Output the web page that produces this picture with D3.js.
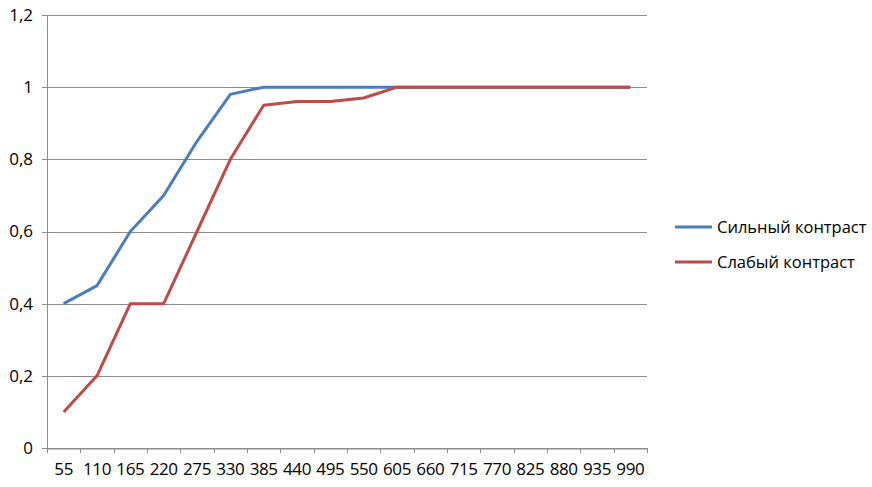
<!DOCTYPE html>
<html>
<head>
<meta charset="utf-8">
<script src="https://cdn.jsdelivr.net/npm/d3@7"></script>
<style>
  body { margin: 0; background: #fff; }
  text { font-family: "Open Sans", "Liberation Sans", sans-serif; fill: #000; }
</style>
</head>
<body>
<div id="chart"></div>
<script>
const width = 872;
const height = 487;

// данные
const categories = [55, 110, 165, 220, 275, 330, 385, 440, 495, 550, 605, 660, 715, 770, 825, 880, 935, 990];
const strong = [0.4, 0.45, 0.6, 0.7, 0.85, 0.98, 1, 1, 1, 1, 1, 1, 1, 1, 1, 1, 1, 1];
const weak = [0.1, 0.2, 0.4, 0.4, 0.6, 0.8, 0.95, 0.96, 0.96, 0.97, 1, 1, 1, 1, 1, 1, 1, 1];
const yTicks = [0, 0.2, 0.4, 0.6, 0.8, 1, 1.2];
const seriesNames = ["Сильный контраст", "Слабый контраст"];
const colors = ["#4A7EBB", "#BE4B48"];

const margin = { left: 47, right: 225, top: 15, bottom: 39 };

const svg = d3.select("#chart")
  .append("svg")
  .attr("width", width)
  .attr("height", height);

const x = d3.scaleBand()
  .domain(categories)
  .range([margin.left, width - margin.right]);

const y = d3.scaleLinear()
  .domain([0, 1.2])
  .range([height - margin.bottom, margin.top]);

const fmt = d => d3.format("")(+d.toFixed(1)).replace(".", ",");

// сетка
svg.append("g")
  .selectAll("line")
  .data(yTicks)
  .join("line")
  .attr("x1", margin.left - 5)
  .attr("x2", width - margin.right)
  .attr("y1", d => Math.round(y(d)) + 0.5)
  .attr("y2", d => Math.round(y(d)) + 0.5)
  .attr("stroke", "#8c8c8c")
  .attr("stroke-width", 1);

// ось Y
svg.append("line")
  .attr("x1", margin.left + 0.5).attr("x2", margin.left + 0.5)
  .attr("y1", y(1.2)).attr("y2", y(0))
  .attr("stroke", "#8c8c8c");

svg.append("g")
  .selectAll("text")
  .data(yTicks)
  .join("text")
  .attr("x", margin.left - 14)
  .attr("y", d => y(d))
  .attr("dy", "0.35em")
  .attr("text-anchor", "end")
  .style("font-size", "17px")
  .text(fmt);

// ось X
const xAxis = svg.append("g")
  .attr("transform", `translate(0,${Math.round(y(0)) + 0.5})`)
  .call(d3.axisBottom(x).tickSize(0).tickPadding(14));
xAxis.select(".domain").attr("stroke", "#8c8c8c");
xAxis.selectAll("text")
  .style("font-size", "17px")
  .style("font-family", "\"Open Sans\", sans-serif")
  .attr("fill", "#000")
  .attr("letter-spacing", "-0.4px");

// деления между категориями
svg.append("g")
  .selectAll("line")
  .data(categories.concat(["end"]))
  .join("line")
  .attr("x1", (d, i) => Math.round(margin.left + i * x.step()) + 0.5)
  .attr("x2", (d, i) => Math.round(margin.left + i * x.step()) + 0.5)
  .attr("y1", y(0))
  .attr("y2", y(0) + 5)
  .attr("stroke", "#8c8c8c");

// линии
const line = d3.line()
  .x((d, i) => x(categories[i]) + x.bandwidth() / 2)
  .y(d => y(d));

[strong, weak].forEach((s, k) => {
  svg.append("path")
    .datum(s)
    .attr("fill", "none")
    .attr("stroke", colors[k])
    .attr("stroke-width", 3)
    .attr("stroke-linejoin", "round")
    .attr("d", line);
});

// легенда
const legend = svg.append("g")
  .attr("transform", "translate(675,227)");

seriesNames.forEach((name, i) => {
  const g = legend.append("g").attr("transform", `translate(0,${i * 35})`);
  g.append("line")
    .attr("x1", 0).attr("x2", 37)
    .attr("stroke", colors[i])
    .attr("stroke-width", 3);
  g.append("text")
    .attr("x", 42)
    .attr("dy", "0.35em")
    .style("font-size", "16.5px")
    .text(name);
});
</script>
</body>
</html>
